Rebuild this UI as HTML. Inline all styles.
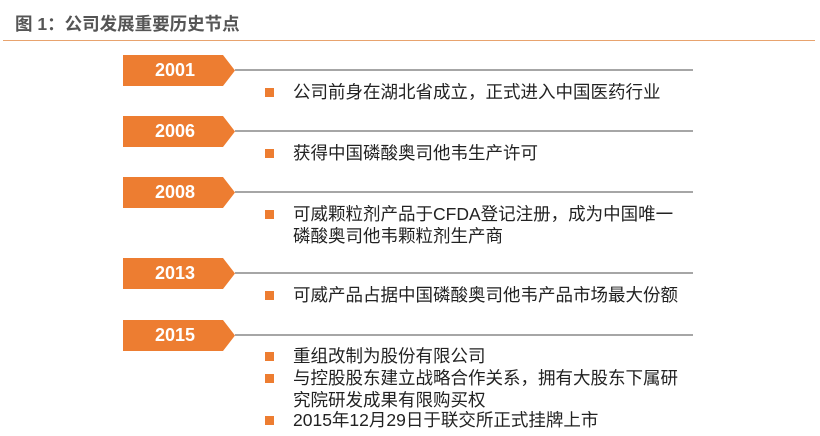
<!DOCTYPE html>
<html><head><meta charset="utf-8"><style>
body{margin:0;width:820px;height:436px;background:#fff;position:relative;overflow:hidden;font-family:"Liberation Sans","Noto Sans CJK SC",sans-serif}
.t{position:absolute;left:15px;top:11px;font-size:17.5px;font-weight:bold;color:#555}
.hr{position:absolute;left:3px;width:812px;top:40px;height:1px;background:#e8a36e}
.tag{position:absolute;left:123px;width:112px;height:31px;background:#ED7D31;clip-path:polygon(0 0,100px 0,112px 50%,100px 100%,0 100%);color:#fff;font-weight:bold;font-size:18px;line-height:31px;text-indent:32px}
.ln{position:absolute;left:235px;width:458px;height:2px;background:#a6a6a6}
.b{position:absolute;left:265px;width:9px;height:9px;background:#ED7D31}
.x{position:absolute;left:293px;font-size:17.5px;color:#222;line-height:21.5px;white-space:nowrap}
</style></head><body>
<div class="t">图 1：公司发展重要历史节点</div>
<div class="hr"></div>

<div class="tag" style="top:55px">2001</div><div class="ln" style="top:69px"></div>
<div class="b" style="top:88px"></div><div class="x" style="top:82px">公司前身在湖北省成立，正式进入中国医药行业</div>

<div class="tag" style="top:116px">2006</div><div class="ln" style="top:130px"></div>
<div class="b" style="top:149px"></div><div class="x" style="top:143px">获得中国磷酸奥司他韦生产许可</div>

<div class="tag" style="top:177px">2008</div><div class="ln" style="top:191px"></div>
<div class="b" style="top:210px"></div><div class="x" style="top:204px">可威颗粒剂产品于CFDA登记注册，成为中国唯一<br>磷酸奥司他韦颗粒剂生产商</div>

<div class="tag" style="top:258px">2013</div><div class="ln" style="top:272px"></div>
<div class="b" style="top:291px"></div><div class="x" style="top:285px">可威产品占据中国磷酸奥司他韦产品市场最大份额</div>

<div class="tag" style="top:320px">2015</div><div class="ln" style="top:334px"></div>
<div class="b" style="top:352px"></div><div class="x" style="top:346px">重组改制为股份有限公司</div>
<div class="b" style="top:374px"></div><div class="x" style="top:368px">与控股股东建立战略合作关系，拥有大股东下属研<br>究院研发成果有限购买权</div>
<div class="b" style="top:416px"></div><div class="x" style="top:410px">2015年12月29日于联交所正式挂牌上市</div>
</body></html>
